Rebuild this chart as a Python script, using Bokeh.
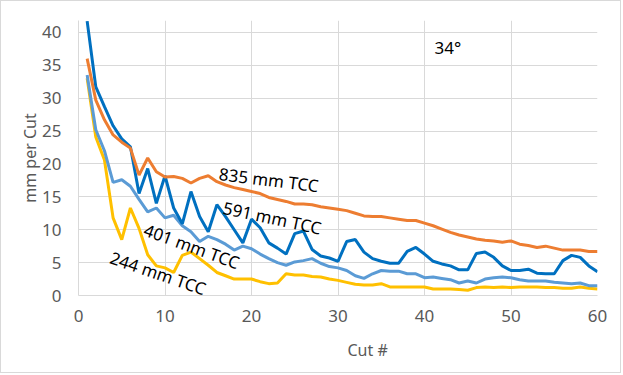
from bokeh.plotting import figure
from bokeh.models import Label, Range1d, FixedTicker, Title
from bokeh.embed import file_html
from bokeh.resources import INLINE
import math

cuts = list(range(1, 61))

tcc_835 = [36.0, 29.7, 26.7, 24.4, 23.3, 22.4, 18.3, 20.9, 18.8, 18.0,
           18.1, 17.8, 17.1, 17.8, 18.2, 17.3, 16.8, 16.4, 16.1, 15.8,
           15.5, 14.9, 14.6, 14.3, 13.9, 13.9, 13.8, 13.5, 13.3, 13.1,
           12.9, 12.5, 12.1, 12.0, 12.0, 11.8, 11.6, 11.4, 11.4, 11.0,
           10.6, 10.1, 9.6, 9.2, 8.9, 8.6, 8.4, 8.3, 8.1, 8.3,
           7.8, 7.6, 7.3, 7.5, 7.2, 6.9, 6.9, 6.9, 6.7, 6.7]

tcc_591 = [41.7, 31.7, 28.7, 25.8, 23.8, 22.6, 15.5, 19.3, 14.0, 18.2,
           13.3, 10.9, 15.8, 12.0, 9.7, 13.8, 12.0, 10.0, 8.0, 11.6,
           10.3, 8.0, 7.2, 6.3, 9.4, 9.8, 7.0, 6.0, 5.7, 5.2,
           8.2, 8.5, 6.6, 5.6, 5.2, 4.9, 4.9, 6.7, 7.3, 6.3,
           5.2, 4.8, 4.5, 3.9, 3.9, 6.4, 6.6, 5.8, 4.5, 3.8,
           3.8, 4.0, 3.4, 3.3, 3.3, 5.3, 6.1, 5.8, 4.5, 3.6]

tcc_401 = [33.5, 25.2, 22.0, 17.2, 17.6, 16.6, 14.6, 12.7, 13.3, 11.8,
           12.2, 10.6, 9.7, 8.2, 9.0, 8.5, 7.8, 6.9, 7.5, 7.1,
           6.3, 5.6, 5.0, 4.6, 5.1, 5.3, 5.6, 4.9, 4.4, 4.2,
           3.8, 3.0, 2.6, 3.3, 3.8, 3.7, 3.7, 3.3, 3.3, 2.7,
           2.8, 2.6, 2.4, 1.9, 2.2, 1.9, 2.5, 2.7, 2.8, 2.7,
           2.4, 2.2, 2.2, 2.2, 2.0, 1.9, 1.8, 1.9, 1.5, 1.5]

tcc_244 = [33.0, 24.1, 20.6, 11.8, 8.5, 13.3, 10.2, 6.2, 4.5, 4.2,
           3.5, 6.1, 6.6, 5.6, 4.6, 3.5, 3.0, 2.5, 2.5, 2.5,
           2.1, 1.8, 1.9, 3.3, 3.1, 3.1, 2.9, 2.8, 2.5, 2.3,
           2.0, 1.7, 1.6, 1.6, 1.8, 1.3, 1.3, 1.3, 1.3, 1.3,
           1.0, 1.0, 1.0, 0.9, 0.8, 1.2, 1.3, 1.2, 1.3, 1.2,
           1.3, 1.3, 1.3, 1.2, 1.2, 1.1, 1.1, 1.3, 1.1, 1.0]

x_ticks = [0, 10, 20, 30, 40, 50, 60]
y_ticks = [0, 5, 10, 15, 20, 25, 30, 35, 40]

FONT = "Noto Sans"
GRID = "#d9d9d9"
TICK_COLOR = "#595959"

p = figure(width=621, height=373, output_backend="svg", toolbar_location=None,
           x_range=Range1d(0, 60), y_range=Range1d(0, 41.8),
           min_border_left=77, min_border_right=25, min_border_top=19, min_border_bottom=79,
           background_fill_color="white", border_fill_color="white",
           styles={"border": "1px solid #d9d9d9"})
p.outline_line_color = None

p.xaxis.ticker = FixedTicker(ticks=x_ticks)
p.yaxis.ticker = FixedTicker(ticks=y_ticks)
for ax in (p.xaxis[0], p.yaxis[0]):
    ax.axis_line_color = GRID
    ax.major_tick_line_color = None
    ax.minor_tick_line_color = None
    ax.major_label_text_color = TICK_COLOR
    ax.major_label_text_font = FONT
    ax.major_label_text_font_size = "17px"
    ax.axis_label_text_color = TICK_COLOR
    ax.axis_label_text_font = FONT
    ax.axis_label_text_font_size = "16px"
    ax.axis_label_text_font_style = "normal"
p.yaxis.axis_label = "mm per Cut"
p.xaxis.major_label_standoff = 8
p.yaxis.major_label_standoff = 11
p.yaxis.axis_label_standoff = -2

# x-axis title, placed off-centre as in the reference
p.add_layout(Title(text="Cut #", align="left", offset=269, standoff=25,
                   text_font=FONT, text_font_size="16px", text_font_style="normal",
                   text_color=TICK_COLOR), "below")

p.xgrid.ticker = FixedTicker(ticks=x_ticks)
p.ygrid.ticker = FixedTicker(ticks=y_ticks)
p.xgrid.grid_line_color = GRID
p.ygrid.grid_line_color = GRID

LW = 3
p.line(cuts, tcc_244, line_color="#FFC000", line_width=LW)
p.line(cuts, tcc_401, line_color="#5B9BD5", line_width=LW)
p.line(cuts, tcc_591, line_color="#0070C0", line_width=LW)
p.line(cuts, tcc_835, line_color="#ED7D31", line_width=LW)

labels = [
    ("835 mm TCC", 22.0, 17.6, -7),
    ("591 mm TCC", 22.4, 11.8, -12),
    ("401 mm TCC", 13.1, 7.5, -20),
    ("244 mm TCC", 9.2, 3.4, -19),
    ("34°", 42.7, 37.7, 0),
]
for txt, lx, ly, ang in labels:
    p.add_layout(Label(x=lx, y=ly, text=txt, angle=math.radians(ang),
                       text_align="center", text_baseline="middle",
                       text_font=FONT, text_font_size="17px", text_color="#000000"))

open("out.html", "w").write(file_html(p, INLINE))
